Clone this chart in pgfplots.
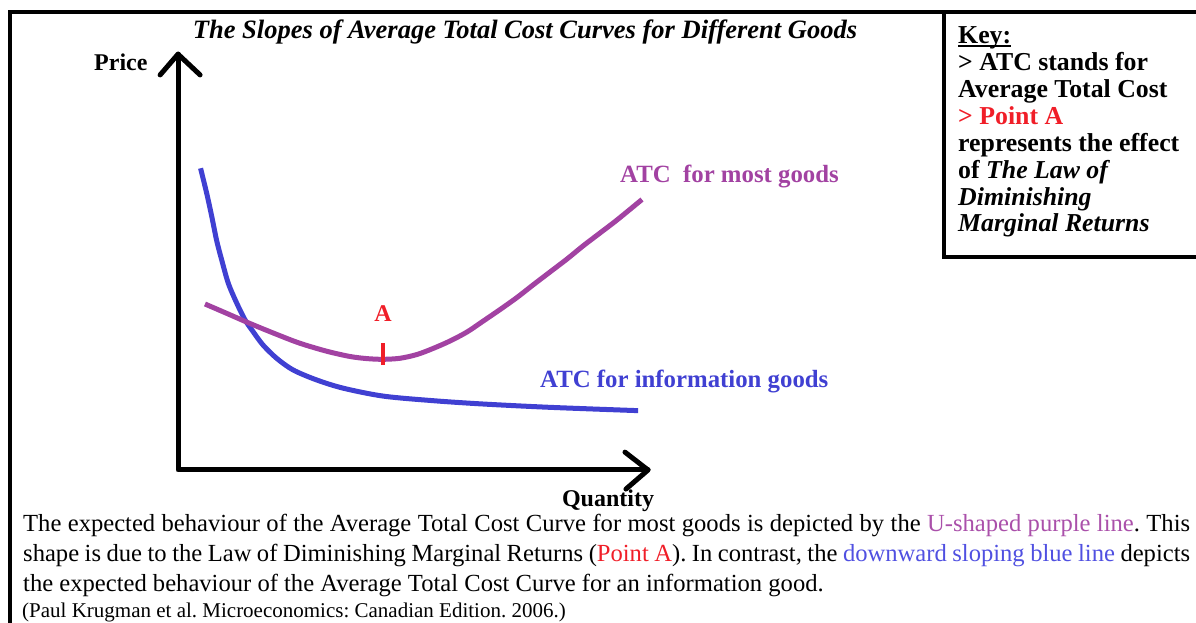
\documentclass[border=0pt]{standalone}
\usepackage{pgfplots}
\pgfplotsset{compat=1.18}
\usepackage{fontspec}
\setmainfont{Liberation Serif}
\definecolor{atcblue}{RGB}{64,64,210}
\definecolor{atcpurple}{RGB}{162,66,162}
\definecolor{txtpurple}{RGB}{170,80,170}
\definecolor{txtblue}{RGB}{80,80,225}
\definecolor{ptred}{RGB}{240,30,40}
\newcommand\keyul[1]{\setbox0\hbox{#1}\rlap{\rule[-3pt]{\wd0}{1.8pt}}\box0}
\begin{document}
\frenchspacing
\begin{tikzpicture}[x=1pt,y=1pt]
\path[use as bounding box] (0,0) rectangle (1196,623);
% outer frame (top and left) and key box
\draw[line width=4pt] (10,0) -- (10,611) -- (1200,611);
\draw[line width=4pt] (944,611) -- (944,366) -- (1200,366);
\begin{axis}[
  at={(178pt,153pt)}, anchor=south west,
  width=470pt, height=415pt, scale only axis,
  xmin=0, xmax=10, ymin=0, ymax=10,
  axis lines=none, ticks=none, clip=false]
% axes with open arrowheads
\draw[line width=5pt, line cap=round, line join=round] (axis cs:0,10.02) -- (axis cs:0,0) -- (axis cs:10,0);
\draw[line width=5pt, line cap=round, line join=round] (axis cs:-0.38,9.52) -- (axis cs:0,10.02) -- (axis cs:0.47,9.52);
\draw[line width=5pt, line cap=round, line join=round] (axis cs:9.51,0.43) -- (axis cs:10,0) -- (axis cs:9.53,-0.46);
% ATC for information goods
\addplot[atcblue, line width=5pt, smooth] coordinates {
(0.48,7.27) (0.61,6.67) (0.72,6.10) (0.82,5.54) (0.93,5.06) (1.07,4.50)
(1.25,4.02) (1.43,3.61) (1.60,3.33) (1.81,3.01) (2.10,2.69) (2.45,2.41)
(2.95,2.17) (3.52,1.97) (4.37,1.78) (5.43,1.67) (6.49,1.59) (7.91,1.51) (9.79,1.43)};
% ATC for most goods
\addplot[atcpurple, line width=5pt, smooth] coordinates {
(0.574,4.000) (1.043,3.771) (1.532,3.530) (2.106,3.265) (2.596,3.053)
(3.170,2.860) (3.660,2.735) (4.021,2.684) (4.362,2.667) (4.723,2.692)
(5.085,2.783) (5.426,2.928) (5.787,3.108) (6.149,3.325) (6.489,3.585)
(6.851,3.865) (7.213,4.157) (7.553,4.458) (7.915,4.771) (8.277,5.084)
(8.617,5.398) (8.979,5.711) (9.340,6.024) (9.872,6.518)};
% point A marker
\addplot[ptred, line width=4pt] coordinates {(4.36,2.53) (4.36,3.06)};
\end{axis}
% texts
\node[anchor=base, inner sep=0pt, font=\fontsize{26.5}{30}\selectfont\bfseries\itshape] at (525,584) {The Slopes of Average Total Cost Curves for Different Goods};
\node[anchor=base west, inner sep=0pt, font=\fontsize{24}{27}\selectfont\bfseries] at (94,552) {Price};
\node[anchor=base, inner sep=0pt, font=\fontsize{24}{27}\selectfont\bfseries] at (608,116) {Quantity};
\node[anchor=base, inner sep=0pt, text=ptred, font=\fontsize{24}{27}\selectfont\bfseries] at (383,301) {A};
\node[anchor=base west, inner sep=0pt, text=atcpurple, font=\fontsize{24.8}{27}\selectfont\bfseries] at (620,440) {ATC\ \ for most goods};
\node[anchor=base west, inner sep=0pt, text=atcblue, font=\fontsize{24.8}{27}\selectfont\bfseries] at (540,235) {ATC for information goods};
% key
\node[anchor=base west, inner sep=0pt, align=left, font=\fontsize{25.8}{26.9}\selectfont\bfseries] at (958,391)
{\keyul{Key:}\\
> ATC stands for\\
Average Total Cost\\
\textcolor{ptred}{> Point A}\\
represents the effect\\
of \textit{The Law of}\\
\textit{Diminishing}\\
\textit{Marginal Returns}};
% caption
\node[anchor=north west, inner sep=0pt] at (23,112) {\begin{minipage}{1167pt}\fontsize{24.6}{29.6}\selectfont
\strut The expected behaviour of the Average Total Cost Curve for most goods is depicted by the \textcolor{txtpurple}{U-shaped purple line}. This\linebreak
shape is due to the Law of Diminishing Marginal Returns (\textcolor{ptred}{Point A}). In contrast, the \textcolor{txtblue}{downward sloping blue line} depicts\linebreak
the expected behaviour of the Average Total Cost Curve for an information good.\par
\end{minipage}};
\node[anchor=base west, inner sep=0pt, font=\fontsize{21}{22}\selectfont] at (22,5) {(Paul Krugman et al. Microeconomics: Canadian Edition. 2006.)};
\end{tikzpicture}
\end{document}
